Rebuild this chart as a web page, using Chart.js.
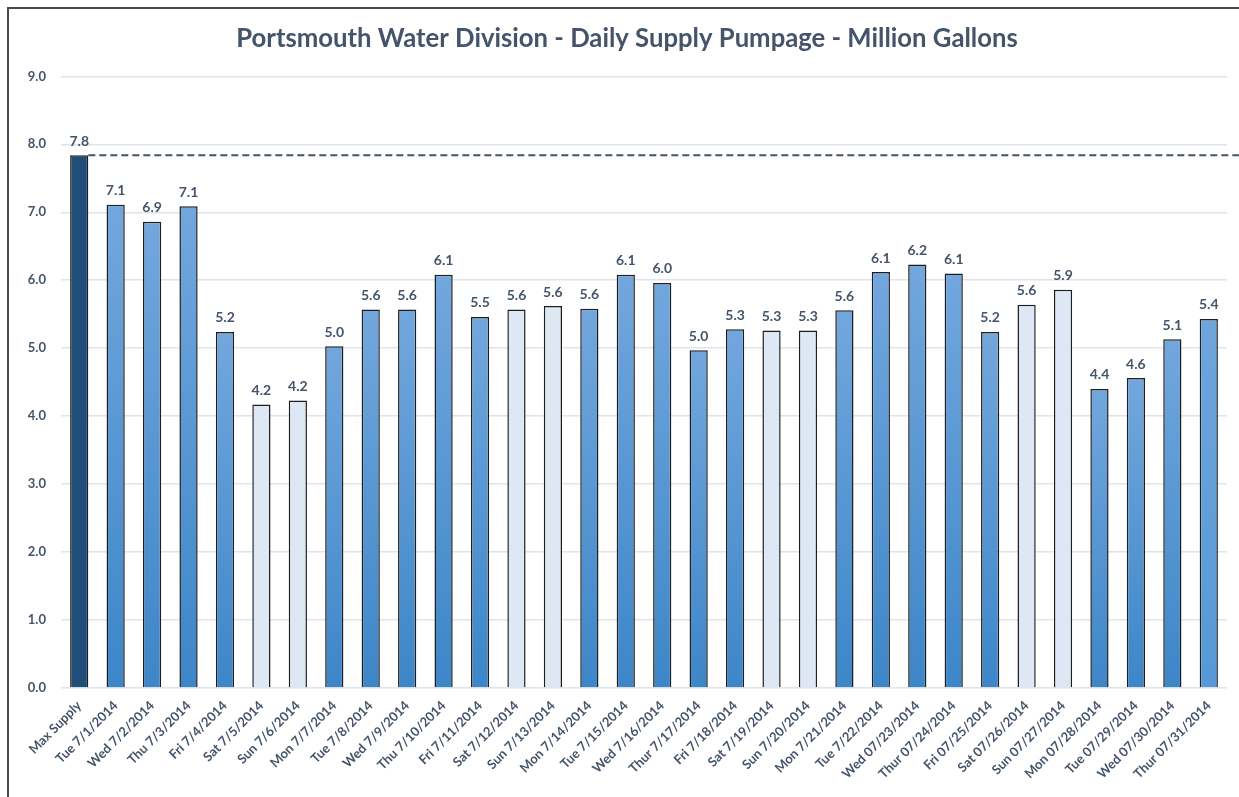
<!DOCTYPE html>
<html lang="en">
<head>
    <meta charset="UTF-8">
    <title>Portsmouth Water Division - Daily Supply Pumpage</title>
    <style>
        body {
            margin: 0;
            background: #ffffff;
            overflow: hidden;
        }
        #frame {
            position: absolute;
            left: 7px;
            top: 7px;
            width: 1300px;
            height: 900px;
            border-left: 2px solid #4a4a4a;
            border-top: 2px solid #4a4a4a;
        }
        #chart {
            position: absolute;
            left: 0;
            top: 0;
        }
    </style>
</head>
<body>
    <div id="frame"></div>
    <canvas id="chart" width="1239" height="797"></canvas>

    <script src="https://cdn.jsdelivr.net/npm/chart.js"></script>
    <script>
        // data
        const categories = [
            'Max Supply', 'Tue 7/1/2014', 'Wed 7/2/2014', 'Thu 7/3/2014', 'Fri 7/4/2014',
            'Sat 7/5/2014', 'Sun 7/6/2014', 'Mon 7/7/2014', 'Tue 7/8/2014', 'Wed 7/9/2014',
            'Thu 7/10/2014', 'Fri 7/11/2014', 'Sat 7/12/2014', 'Sun 7/13/2014', 'Mon 7/14/2014',
            'Tue 7/15/2014', 'Wed 7/16/2014', 'Thur 7/17/2014', 'Fri 7/18/2014', 'Sat 7/19/2014',
            'Sun 7/20/2014', 'Mon 7/21/2014', 'Tue 7/22/2014', 'Wed 07/23/2014', 'Thur 07/24/2014',
            'Fri 07/25/2014', 'Sat 07/26/2014', 'Sun 07/27/2014', 'Mon 07/28/2014', 'Tue 07/29/2014',
            'Wed 07/30/2014', 'Thur 07/31/2014'
        ];
        const pumpage = [
            7.84, 7.11, 6.86, 7.09, 5.24, 4.17, 4.23, 5.03, 5.57, 5.57,
            6.08, 5.46, 5.57, 5.62, 5.58, 6.08, 5.96, 4.97, 5.28, 5.26,
            5.26, 5.56, 6.12, 6.23, 6.10, 5.24, 5.64, 5.86, 4.40, 4.56,
            5.13, 5.43
        ];
        const maxSupply = pumpage[0];
        const yTicks = [0, 1, 2, 3, 4, 5, 6, 7, 8, 9];

        const textColor = '#44546a';
        const fontName = 'Lato, "Open Sans", sans-serif';

        function barColor(ctx) {
            const i = ctx.dataIndex;
            const label = categories[i];
            if (i === 0) return '#1f4e79';
            if (label.startsWith('Sat') || label.startsWith('Sun')) return '#dde8f4';
            const chart = ctx.chart;
            if (!chart.chartArea) return '#5b9bd5';
            const y = chart.scales.y;
            const top = y.getPixelForValue(pumpage[i]);
            const bottom = y.getPixelForValue(0);
            const g = chart.ctx.createLinearGradient(0, top, 0, bottom);
            if (i === categories.length - 1) {
                g.addColorStop(0, '#6ea5dc');
                g.addColorStop(1, '#5699d6');
            } else {
                g.addColorStop(0, '#72a7dd');
                g.addColorStop(1, '#3d86c8');
            }
            return g;
        }

        // value labels above the bars + dashed max supply line
        const extras = {
            id: 'extras',
            afterDatasetsDraw(chart) {
                const c = chart.ctx;
                const meta = chart.getDatasetMeta(0);
                const y = chart.scales.y;

                c.save();
                const first = meta.data[0];
                const ly = y.getPixelForValue(maxSupply);
                c.strokeStyle = '#44546a';
                c.lineWidth = 2;
                c.setLineDash([7, 4]);
                c.beginPath();
                c.moveTo(first.x + first.width / 2, ly);
                c.lineTo(chart.width, ly);
                c.stroke();
                c.restore();

                c.save();
                c.fillStyle = textColor;
                c.font = 'bold 14px ' + fontName;
                c.textAlign = 'center';
                c.textBaseline = 'bottom';
                meta.data.forEach((bar, i) => {
                    c.fillText(pumpage[i].toFixed(1), bar.x, bar.y - 7);
                });
                c.restore();
            }
        };

        new Chart(document.getElementById('chart'), {
            type: 'bar',
            data: {
                labels: categories,
                datasets: [{
                    data: pumpage,
                    backgroundColor: barColor,
                    borderColor: '#1e1e1e',
                    borderWidth: 1.5,
                    barPercentage: 0.5,
                    categoryPercentage: 1
                }]
            },
            options: {
                responsive: false,
                animation: false,
                layout: { padding: { left: 27, right: 12, top: 0, bottom: 0 } },
                plugins: {
                    legend: { display: false },
                    tooltip: { enabled: false },
                    title: {
                        display: true,
                        text: 'Portsmouth Water Division - Daily Supply Pumpage - Million Gallons',
                        color: textColor,
                        font: { family: fontName, size: 25.7, weight: 'bold' },
                        padding: { top: 23, bottom: 22.5 }
                    }
                },
                scales: {
                    x: {
                        grid: { display: false },
                        border: { display: false },
                        ticks: {
                            color: textColor,
                            font: { family: fontName, size: 13, weight: 'bold' },
                            minRotation: 45,
                            maxRotation: 45,
                            autoSkip: false,
                            padding: 2
                        },
                        afterFit(s) { s.height = 797 - 688; }
                    },
                    y: {
                        min: 0,
                        max: 9,
                        grid: { color: '#e1e4ea', lineWidth: 1.5, drawTicks: false },
                        border: { display: false },
                        afterBuildTicks(s) { s.ticks = yTicks.map(v => ({ value: v })); },
                        ticks: {
                            color: textColor,
                            font: { family: fontName, size: 13, weight: 'bold' },
                            padding: 15,
                            callback: v => v.toFixed(1)
                        },
                        afterFit(s) { s.width = 34; }
                    }
                }
            },
            plugins: [extras]
        });
    </script>
</body>
</html>
